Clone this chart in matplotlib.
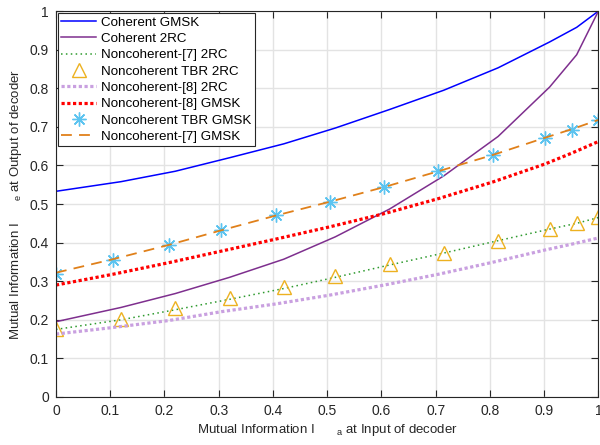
import matplotlib
matplotlib.use('Agg')
import matplotlib.pyplot as plt

plt.rcParams['font.family'] = ['Liberation Sans', 'DejaVu Sans']

# x positions of the 2RC / coherent points and of the GMSK TBR points
x_2rc = [0, 0.12, 0.22, 0.32, 0.42, 0.515, 0.615, 0.715, 0.815, 0.91, 0.96, 1.0]
x_gmsk = [0, 0.105, 0.208, 0.305, 0.405, 0.505, 0.605, 0.705, 0.805, 0.902, 0.951, 1.0]

coh_gmsk = [0.533, 0.558, 0.585, 0.620, 0.656, 0.697, 0.745, 0.795, 0.853, 0.920, 0.958, 1.0]
coh_2rc = [0.195, 0.232, 0.268, 0.310, 0.357, 0.415, 0.487, 0.573, 0.675, 0.803, 0.887, 1.0]
nc7_2rc = [0.175, 0.200, 0.226, 0.253, 0.281, 0.310, 0.342, 0.373, 0.405, 0.435, 0.450, 0.465]
tbr_2rc = [0.177, 0.202, 0.230, 0.257, 0.284, 0.313, 0.344, 0.374, 0.405, 0.434, 0.450, 0.467]
nc8_2rc = [0.163, 0.180, 0.198, 0.221, 0.241, 0.264, 0.290, 0.318, 0.349, 0.381, 0.396, 0.412]
nc8_gmsk = [0.290, 0.318, 0.348, 0.378, 0.409, 0.441, 0.475, 0.514, 0.557, 0.604, 0.632, 0.662]
tbr_gmsk = [0.318, 0.354, 0.394, 0.433, 0.471, 0.506, 0.543, 0.585, 0.627, 0.672, 0.693, 0.718]
nc7_gmsk = [0.322, 0.357, 0.394, 0.432, 0.470, 0.506, 0.544, 0.585, 0.627, 0.672, 0.694, 0.718]

tick_vals = [i / 10 for i in range(11)]
tick_text = ['0', '0.1', '0.2', '0.3', '0.4', '0.5', '0.6', '0.7', '0.8', '0.9', '1']

fig = plt.figure(figsize=(6, 4.45), dpi=100)
ax = fig.add_axes([0.0933, 0.108, 0.904, 0.867])

ax.plot(x_2rc, coh_gmsk, color='#0000ff', lw=1.1, label='Coherent GMSK')
ax.plot(x_2rc, coh_2rc, color='#7e2f8e', lw=1.1, label='Coherent 2RC')
ax.plot(x_2rc, nc7_2rc, color='#2e9a2e', lw=1.1, ls=(0, (1, 2.2)), label='Noncoherent-[7] 2RC')
ax.plot(x_2rc, tbr_2rc, ls='none', marker='^', ms=9.5, mfc='none', mec='#edb120', mew=1.0,
        label='Noncoherent TBR 2RC')
ax.plot(x_gmsk, nc8_2rc, color='#c9a0e0', lw=2.3, ls=(0, (1, 0.8)), label='Noncoherent-[8] 2RC')
ax.plot(x_gmsk, nc8_gmsk, color='#ff0000', lw=2.3, ls=(0, (1, 0.8)), label='Noncoherent-[8] GMSK')
ax.plot(x_gmsk, tbr_gmsk, ls='none', marker=(8, 2, 0), ms=10, mec='#5cc4f0', mew=1.0,
        label='Noncoherent TBR GMSK')
ax.plot(x_gmsk, nc7_gmsk, color='#e0801a', lw=1.3, ls=(0, (6, 4)), label='Noncoherent-[7] GMSK')

ax.set_xlim(0, 1)
ax.set_ylim(0, 1)
ax.set_xticks(tick_vals)
ax.set_yticks(tick_vals)
ax.set_xticklabels(tick_text)
ax.set_yticklabels(tick_text)
ax.grid(True, color='#e3e3e3', lw=1.0)
ax.set_axisbelow(True)
ax.tick_params(direction='in', top=True, right=True, length=5, width=0.8,
               labelsize=10, colors='#262626', pad=5)
for s in ax.spines.values():
    s.set_color('#262626')
    s.set_linewidth(0.8)

ax.set_xlabel('Mutual Information I      $_\\mathregular{a}$ at Input of decoder',
              fontsize=9.5, color='#262626', labelpad=3)
ax.set_ylabel('Mutual Information I      $_\\mathregular{e}$ at Output of decoder',
              fontsize=9.5, color='#262626', labelpad=4)

leg = ax.legend(loc='upper left', fontsize=9.6, frameon=True, fancybox=False,
                framealpha=1, edgecolor='#262626', handlelength=2.6,
                labelspacing=0.3, borderaxespad=0.15, borderpad=0.25, handletextpad=0.4)
leg.get_frame().set_linewidth(0.8)

fig.savefig('out.png', dpi=100)
